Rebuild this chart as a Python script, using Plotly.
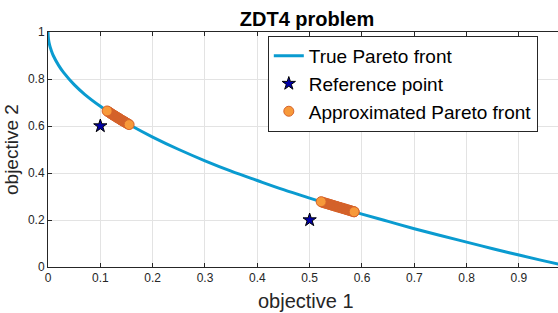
import plotly.graph_objects as go

# True Pareto front
front_x = [0, 0.001, 0.003, 0.006, 0.01, 0.02, 0.03, 0.05, 0.07, 0.1, 0.13, 0.16, 0.2, 0.25,
           0.3, 0.35, 0.4, 0.45, 0.5, 0.55, 0.6, 0.65, 0.7, 0.75, 0.8, 0.85, 0.9, 0.95, 1.0]
front_y = [1, 0.968, 0.945, 0.923, 0.9, 0.859, 0.827, 0.776, 0.735, 0.684, 0.639, 0.6, 0.553, 0.5,
           0.452, 0.408, 0.368, 0.329, 0.293, 0.258, 0.225, 0.194, 0.163, 0.134, 0.106, 0.078, 0.051, 0.025, 0]

# Reference points
ref_x = [0.1, 0.5]
ref_y = [0.6, 0.2]

# Approximated Pareto front (two clusters)
approx1_x = [0.113, 0.115, 0.117, 0.119, 0.121, 0.123, 0.125, 0.127, 0.129, 0.131, 0.133, 0.135,
             0.137, 0.139, 0.141, 0.143, 0.145, 0.147, 0.149, 0.151, 0.153, 0.155]
approx1_y = [0.664, 0.661, 0.658, 0.655, 0.652, 0.649, 0.646, 0.644, 0.641, 0.638, 0.635, 0.633,
             0.630, 0.627, 0.624, 0.622, 0.619, 0.617, 0.614, 0.611, 0.609, 0.606]
approx2_x = [0.522, 0.525, 0.528, 0.531, 0.534, 0.537, 0.540, 0.543, 0.546, 0.549, 0.552, 0.555,
             0.558, 0.561, 0.564, 0.567, 0.570, 0.573, 0.576, 0.579, 0.582, 0.585]
approx2_y = [0.278, 0.275, 0.273, 0.271, 0.269, 0.267, 0.265, 0.263, 0.261, 0.259, 0.257, 0.255,
             0.253, 0.251, 0.249, 0.247, 0.245, 0.243, 0.241, 0.239, 0.237, 0.235]

x_ticks = [0, 0.1, 0.2, 0.3, 0.4, 0.5, 0.6, 0.7, 0.8, 0.9]
x_labels = ["0", "0.1", "0.2", "0.3", "0.4", "0.5", "0.6", "0.7", "0.8", "0.9"]
y_ticks = [0, 0.2, 0.4, 0.6, 0.8, 1]
y_labels = ["0", "0.2", "0.4", "0.6", "0.8", "1"]

FONT = "Liberation Sans, Arial, Helvetica, sans-serif"
AX = "#262626"
LIGHT = "#F7993A"
DARK = "#D2622C"

approx_x = approx1_x + approx2_x
approx_y = approx1_y + approx2_y
n1 = len(approx1_x)
ends = {0, n1 - 1, n1, len(approx_x) - 1}
# end markers drawn last so they sit on top, like the reference
order = [i for i in range(len(approx_x)) if i not in ends] + sorted(ends)
ordered_x = [approx_x[i] for i in order]
ordered_y = [approx_y[i] for i in order]
colors = [LIGHT if i in ends else DARK for i in order]
# put a light marker first so the legend symbol is light orange
ordered_x = [ordered_x[-1]] + ordered_x
ordered_y = [ordered_y[-1]] + ordered_y
colors = [LIGHT] + colors

fig = go.Figure()
fig.add_trace(go.Scatter(x=front_x, y=front_y, mode="lines", name="True Pareto front",
                         line=dict(color="#0A9BD0", width=3, shape="spline")))
fig.add_trace(go.Scatter(x=ref_x, y=ref_y, mode="markers", name="Reference point",
                         marker=dict(symbol="star", size=10, color="#0000A8",
                                     line=dict(color="black", width=1))))
fig.add_trace(go.Scatter(x=ordered_x, y=ordered_y, mode="markers", name="Approximated Pareto front",
                         marker=dict(symbol="circle", size=10, color=colors,
                                     line=dict(color="#D6622A", width=1))))

fig.update_layout(
    width=558, height=313,
    margin=dict(l=48, r=0, t=32, b=46, autoexpand=False),
    paper_bgcolor="white", plot_bgcolor="white",
    font=dict(family=FONT, color=AX),
    title=dict(text="<b>ZDT4 problem</b>", x=307/558, xanchor="center", xref="container",
               y=1 - 18.5/313, yanchor="middle", yref="container",
               font=dict(size=20, color="black", family=FONT)),
    legend=dict(x=0.431, y=0.983, xanchor="left", yanchor="top",
                bgcolor="white", bordercolor="#262626", borderwidth=1,
                font=dict(size=19, color="black", family=FONT),
                tracegroupgap=0),
    showlegend=True,
    annotations=[
        dict(text="objective 1", xref="paper", yref="paper", x=(306 - 48) / 510, y=(267 - 301) / 235,
             xanchor="center", yanchor="middle", showarrow=False,
             font=dict(size=20, color=AX, family=FONT)),
        dict(text="objective 2", xref="paper", yref="paper", x=(11 - 48) / 510, y=(267 - 150) / 235,
             xanchor="center", yanchor="middle", showarrow=False, textangle=-90,
             font=dict(size=19, color=AX, family=FONT)),
    ],
)
fig.update_xaxes(range=[0, 0.9746], tickvals=x_ticks, ticktext=x_labels, automargin=False,
                 showgrid=True, gridcolor="#E3E3E3", gridwidth=1,
                 showline=True, linecolor=AX, linewidth=1, mirror="ticks",
                 ticks="inside", ticklen=4, tickcolor=AX,
                 tickfont=dict(size=12, color=AX), zeroline=False)
fig.update_yaxes(range=[0, 1], tickvals=y_ticks, ticktext=y_labels, automargin=False,
                 showgrid=True, gridcolor="#E3E3E3", gridwidth=1,
                 showline=True, linecolor=AX, linewidth=1,
                 ticks="inside", ticklen=4, tickcolor=AX,
                 tickfont=dict(size=12, color=AX), zeroline=False)

fig.write_html("out.html", config={"displayModeBar": False},
               post_script="document.body.style.margin='0';")
